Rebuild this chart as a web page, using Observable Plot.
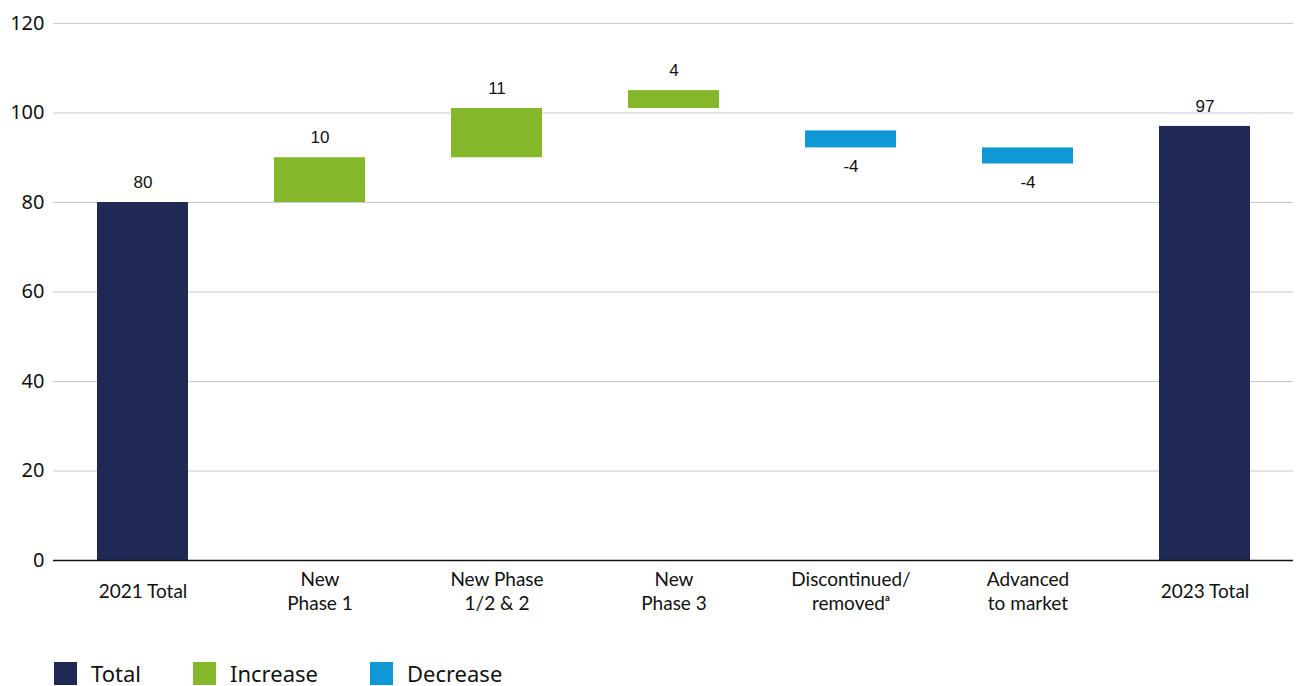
<!DOCTYPE html>
<html>
<head>
<meta charset="utf-8">
<script src="https://cdn.jsdelivr.net/npm/d3@7"></script>
<script src="https://cdn.jsdelivr.net/npm/@observablehq/plot@0.6"></script>
<style>
  html, body { margin: 0; padding: 0; background: #fff; }
  #chart svg { display: block; }
  #legend { display: flex; align-items: center; font-family: "Noto Sans", sans-serif; font-size: 22px; line-height: 23px; color: #111; margin-left: 54px; margin-top: 12px; }
  .item { display: flex; align-items: center; }
  .sw { width: 23px; height: 23px; margin-right: 14px; }
</style>
</head>
<body>
<div id="chart"></div>
<div id="legend"></div>
<script>
const categories = ["2021 Total", "New\nPhase 1", "New Phase\n1/2 & 2", "New\nPhase 3", "Discontinued/\nremovedᵃ", "Advanced\nto market", "2023 Total"];
const barStart = [0, 80, 90, 101, 96, 92.2, 0];
const barEnd = [80, 90, 101, 105, 92.2, 88.6, 97];
const valueLabels = ["80", "10", "11", "4", "-4", "-4", "97"];
const barTypes = ["Total", "Increase", "Increase", "Increase", "Decrease", "Decrease", "Total"];
const legendTypes = ["Total", "Increase", "Decrease"];
const typeColors = ["#202956", "#84b82a", "#0f98d5"];
const yTicks = [0, 20, 40, 60, 80, 100, 120];

const data = categories.map((c, i) => ({
  cat: c, y1: barStart[i], y2: barEnd[i], label: valueLabels[i], type: barTypes[i],
  top: Math.max(barStart[i], barEnd[i]), bottom: Math.min(barStart[i], barEnd[i])
}));

const chart = Plot.plot({
  width: 1296,
  height: 650,
  marginLeft: 53,
  marginRight: 3,
  marginTop: 23,
  marginBottom: 90,
  style: { fontFamily: "Noto Sans, sans-serif", color: "#111", background: "#fff" },
  x: { domain: categories, paddingInner: 0.486, paddingOuter: 0.243, label: null },
  y: { domain: [0, 120], label: null },
  color: { domain: legendTypes, range: typeColors },
  marks: [
    Plot.ruleY(yTicks.filter(d => d > 0), { stroke: "#c9c8d4", strokeWidth: 1.2 }),
    Plot.barY(data, { x: "cat", y1: "y1", y2: "y2", fill: "type" }),
    Plot.ruleY([0], { stroke: "#111", strokeWidth: 1.3 }),
    Plot.text(data.filter(d => d.type !== "Decrease"), { x: "cat", y: "top", text: "label", dy: -20, fontSize: 17, fontFamily: "Liberation Sans, Arial, sans-serif", fill: "#111" }),
    Plot.text(data.filter(d => d.type === "Decrease"), { x: "cat", y: "bottom", text: "label", dy: 19, fontSize: 17, fontFamily: "Liberation Sans, Arial, sans-serif", fill: "#111" }),
    Plot.axisY({ ticks: yTicks, tickSize: 0, tickPadding: 9, fontSize: 20, label: null, fill: "#111" }),
    Plot.axisX({ tickSize: 0, tickPadding: 30, fontSize: 19, lineAnchor: "middle", lineHeight: 1.28, label: null, fill: "#111", fontFamily: "Lato, sans-serif" })
  ]
});
document.getElementById("chart").appendChild(chart);

const legend = document.getElementById("legend");
const gaps = [52, 52, 0];
legendTypes.forEach((t, i) => {
  const item = document.createElement("div");
  item.className = "item";
  item.style.marginRight = gaps[i] + "px";
  const sw = document.createElement("div");
  sw.className = "sw";
  sw.style.background = typeColors[i];
  const lab = document.createElement("span");
  lab.textContent = t;
  item.appendChild(sw);
  item.appendChild(lab);
  legend.appendChild(item);
});
</script>
</body>
</html>
